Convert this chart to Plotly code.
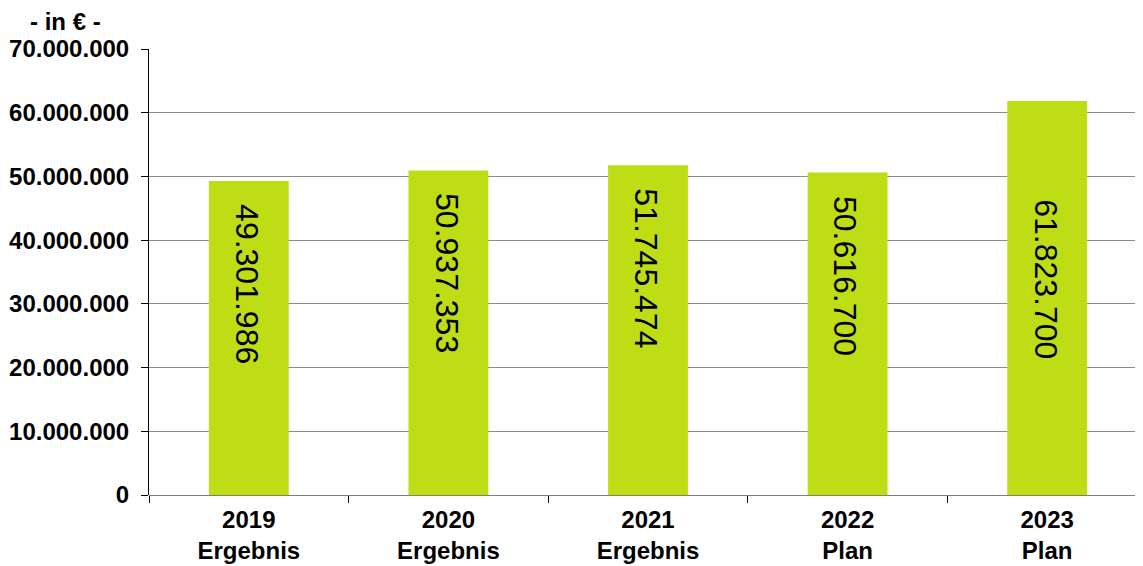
import plotly.graph_objects as go

categories = ["2019<br>Ergebnis", "2020<br>Ergebnis", "2021<br>Ergebnis", "2022<br>Plan", "2023<br>Plan"]
values = [49301986, 50937353, 51745474, 50616700, 61823700]
y_tickvals = [0, 10000000, 20000000, 30000000, 40000000, 50000000, 60000000, 70000000]
unit_label = "- in € -"

BAR_COLOR = "#BEDD14"
FONT = "Liberation Sans, Arial, sans-serif"
TALL_BAR = 55000000      # bars taller than this get their label lowered
TALL_LABEL_AT = 50000000

fig = go.Figure()
fig.add_trace(go.Bar(
    x=categories, y=values, marker=dict(color=BAR_COLOR, line=dict(width=0)),
    width=0.4, hoverinfo="skip",
))

def fmt(v):
    return f"{v:,}".replace(",", ".")

for c, v in zip(categories, values):
    anchor_y = TALL_LABEL_AT if v > TALL_BAR else v
    fig.add_annotation(
        x=c, y=anchor_y, xref="x", yref="y",
        text=fmt(v), textangle=90, showarrow=False,
        xanchor="center", yanchor="top", yshift=-21, xshift=-2,
        font=dict(family=FONT, size=32, color="black"),
    )

fig.add_annotation(
    x=-0.0845, y=1, xref="paper", yref="paper", xanchor="center", yanchor="bottom",
    yshift=12, text="<b>" + unit_label + "</b>", showarrow=False,
    font=dict(family=FONT, size=24, color="black"),
)

fig.update_layout(
    width=1135, height=558,
    margin=dict(l=141, r=0, t=41, b=71),
    paper_bgcolor="white", plot_bgcolor="white",
    separators=",.",
    showlegend=False,
    font=dict(family=FONT, size=24, color="black"),
    xaxis=dict(
        range=[-0.5, 4.48], showgrid=False, zeroline=False, automargin=False,
        showline=False, ticks="outside", tickson="boundaries",
        ticklen=7, tickcolor="black", tickwidth=1, ticklabelstandoff=8,
        tickfont=dict(family=FONT, size=24, color="black", weight="bold"),
    ),
    yaxis=dict(
        range=[0, 70000000], tickvals=y_tickvals, tickformat=",d", automargin=False,
        showgrid=True, gridcolor="#8C8C8C", gridwidth=1,
        zeroline=True, zerolinecolor="#7F7F7F", zerolinewidth=1,
        showline=True, linecolor="black", linewidth=1,
        ticks="outside", ticklen=7, tickcolor="black",
        ticklabelstandoff=7,
        tickfont=dict(family=FONT, size=24, color="black", weight="bold"),
    ),
)

fig.write_html("out.html")
